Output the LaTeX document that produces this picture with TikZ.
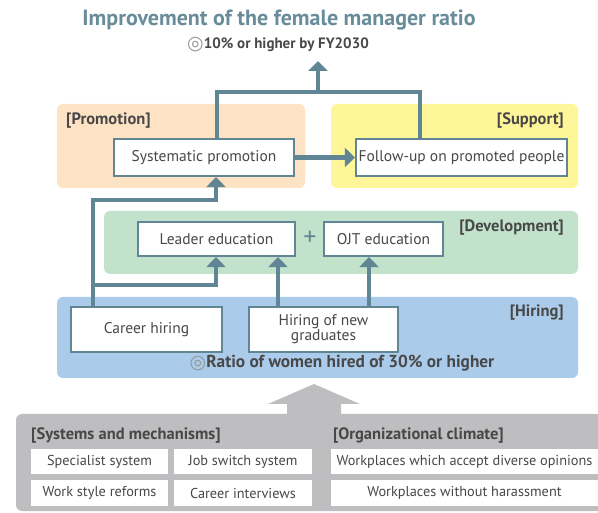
\documentclass[tikz,border=0pt]{standalone}
\usepackage{fontspec}
\setmainfont{PT Sans}
\newfontfamily\symf{DejaVu Sans}
\usetikzlibrary{arrows.meta}
\definecolor{steel}{RGB}{96,134,150}
\definecolor{titlec}{RGB}{104,140,153}
\definecolor{txt}{RGB}{72,72,72}
\definecolor{orangebg}{RGB}{253,227,196}
\definecolor{yellowbg}{RGB}{255,245,153}
\definecolor{greenbg}{RGB}{194,226,203}
\definecolor{bluebg}{RGB}{170,203,234}
\definecolor{greybg}{RGB}{190,190,192}
\definecolor{ringc}{RGB}{150,150,150}
\tikzset{
  box/.style={draw=steel, line width=2.2pt, fill=white, text=txt, inner sep=0pt, font=\fontsize{15.5}{14}\selectfont, align=center},
  wbox/.style={fill=white, text=txt, inner sep=0pt, font=\fontsize{14.3}{15}\selectfont},
  lab/.style={text=txt, inner sep=0pt, font=\bfseries\fontsize{16.5}{17}\selectfont},
  conn/.style={draw=steel, line width=4.5pt, line join=miter},
  arr/.style={conn, -{Triangle[width=19pt,length=10pt]}},
  region/.style={rounded corners=6pt}
}
\newcommand{\ring}{{\symf\mdseries\color{ringc}\fontsize{19}{15}\selectfont\raisebox{-1.5pt}{◎}}}
\begin{document}
\begin{tikzpicture}[x=1pt,y=-1pt]
\useasboundingbox (0,0) rectangle (598,513);
% regions
\fill[orangebg, region] (57,104) rectangle (305,188);
\fill[yellowbg, region] (331,104) rectangle (578,188);
\fill[greenbg, region] (104,211) rectangle (578,274);
\fill[bluebg, region] (57,297) rectangle (578,378);
\fill[greybg, region] (16,414) rectangle (620,511);
\fill[greybg] (314,384) -- (360,404) -- (341,404) -- (341,416) -- (287,416) -- (287,404) -- (268,404) -- cycle;
% title
\node[text=titlec, font=\bfseries\fontsize{22}{22}\selectfont, inner sep=0pt] (title) at (279,20) {Improvement of the female manager ratio};
\node[lab, font=\bfseries\fontsize{15}{15}\selectfont] (goal) at (278,45) {\ring10\% or higher by FY2030};
\coordinate (goaltip) at (318,61);
% labels
\node[lab, anchor=west] (lpromo) at (66,121) {[Promotion]};
\node[lab, anchor=east] (lsupp) at (564,121) {[Support]};
\node[lab, anchor=east] (ldev) at (564,228) {[Development]};
\node[lab, anchor=east] (lhire) at (564,313) {[Hiring]};
\node[lab, font=\bfseries\fontsize{17.3}{17}\selectfont] (ratio) at (342,363) {\ring Ratio of women hired of 30\% or higher};
% boxes
\node[box, minimum width=180pt, minimum height=37pt] (sys) at (204,157.5) {Systematic promotion};
\node[box, minimum width=211pt, minimum height=37pt] (fol) at (461.5,157.5) {Follow-up on promoted people};
\node[box, minimum width=157pt, minimum height=34pt] (lead) at (216.5,239) {Leader education};
\node[box, minimum width=119pt, minimum height=34pt] (ojt) at (383.5,239) {OJT education};
\node[text=steel, font=\fontsize{26}{26}\selectfont, inner sep=0pt] (plus) at (310,238) {+};
\node[box, minimum width=151pt, minimum height=45pt] (career) at (146.5,329.5) {Career hiring};
\node[box, minimum width=149pt, minimum height=45pt, font=\fontsize{15.5}{13.5}\selectfont] (grad) at (323.5,329.5) {Hiring of new\\graduates};
% connectors
\draw[arr] (career.north -| 93,0) |- (216,200) -- (sys.south -| 216,0);
\draw[arr] (93,285) -| (lead.south -| 216,0);
\draw[arr] (grad.north -| 278,0) -- (lead.south -| 278,0);
\draw[arr] (grad.north -| 369,0) -- (ojt.south -| 369,0);
\draw[arr] (sys.east) -- (fol.west);
\draw[conn] (sys.north -| 217,0) |- (420,92) -- (fol.north -| 420,0);
\draw[arr] (318,92) -- (goaltip);
% bottom
\node[lab, anchor=west] (lsys) at (31,436) {[Systems and mechanisms]};
\node[lab, anchor=west] (lorg) at (333,436) {[Organizational climate]};
\node[wbox, minimum width=137pt, minimum height=25pt] (spec) at (99.5,462) {Specialist system};
\node[wbox, minimum width=138pt, minimum height=25pt] (job) at (243,462) {Job switch system};
\node[wbox, minimum width=137pt, minimum height=26pt] (work) at (99.5,493) {Work style reforms};
\node[wbox, minimum width=138pt, minimum height=26pt] (inter) at (243,493) {Career interviews};
\node[wbox, minimum width=267pt, minimum height=25pt] (div) at (464.5,462) {Workplaces which accept diverse opinions};
\node[wbox, minimum width=267pt, minimum height=26pt] (har) at (464.5,493) {Workplaces without harassment};
\end{tikzpicture}
\end{document}
